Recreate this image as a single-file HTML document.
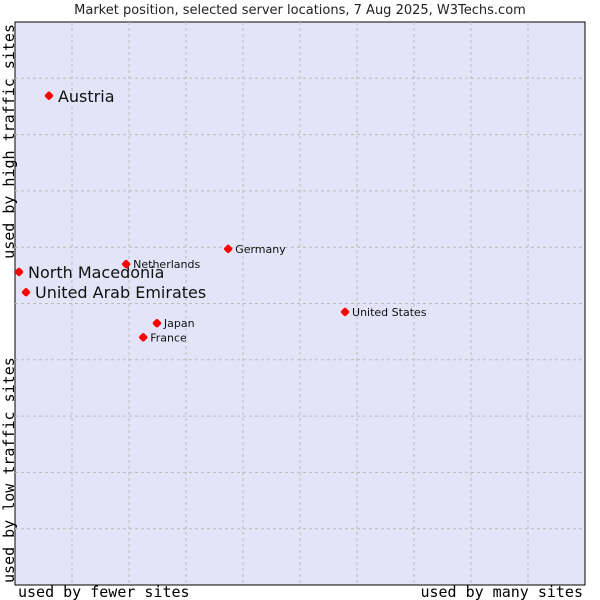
<!DOCTYPE html>
<html><head><meta charset="utf-8"><style>
body{margin:0;background:#fff;}
svg{display:block;font-family:"DejaVu Sans","Liberation Sans",sans-serif;}
</style></head><body>
<svg id="chart" width="600" height="600">
<text x="300" y="14" text-anchor="middle" font-size="13" fill="#222">Market position, selected server locations, 7 Aug 2025, W3Techs.com</text>
<rect x="15" y="22" width="570" height="563" fill="#e4e4f8" stroke="#000" stroke-width="1"/>
<g id="grid"></g>
<g id="points"></g>
<text x="18" y="597" font-family="DejaVu Sans Mono,Liberation Mono,monospace" font-size="15" fill="#000">used by fewer sites</text>
<text x="583" y="597" text-anchor="end" font-family="DejaVu Sans Mono,Liberation Mono,monospace" font-size="15" fill="#000">used by many sites</text>
<text transform="translate(14,583) rotate(-90)" font-family="DejaVu Sans Mono,Liberation Mono,monospace" font-size="15" fill="#000">used by low traffic sites</text>
<text transform="translate(14,24) rotate(-90)" text-anchor="end" font-family="DejaVu Sans Mono,Liberation Mono,monospace" font-size="15" fill="#000">used by high traffic sites</text>
</svg>
<script>
const names = ["Austria","North Macedonia","United Arab Emirates","Netherlands","Germany","United States","Japan","France"];
const xValues = [5.96,0.7,1.93,19.5,37.4,57.9,24.9,22.5];
const yValues = [86.9,55.6,52.0,57.0,59.7,48.5,46.5,44.0];
const big = [true,true,true,false,false,false,false,false];
const L=15,R=585,T=22,B=585;
function sx(v){return L+(R-L)*v/100;}
function sy(v){return B-(B-T)*v/100;}
const NS="http://www.w3.org/2000/svg";
const grid=document.getElementById('grid');
for(let i=1;i<10;i++){
  const vl=document.createElementNS(NS,'line');
  
  
  vl.setAttribute('x1',sx(i*10));vl.setAttribute('x2',sx(i*10));vl.setAttribute('y1',T);vl.setAttribute('y2',B);
  vl.setAttribute('stroke','#bbb');vl.setAttribute('stroke-dasharray','3,3');
  grid.appendChild(vl);
  const hl=document.createElementNS(NS,'line');
  
  
  hl.setAttribute('y1',sy(i*10));hl.setAttribute('y2',sy(i*10));hl.setAttribute('x1',L);hl.setAttribute('x2',R);
  hl.setAttribute('stroke','#bbb');hl.setAttribute('stroke-dasharray','3,3');
  grid.appendChild(hl);
}
const pts=document.getElementById('points');
names.forEach((n,i)=>{
  const x=sx(xValues[i]),y=sy(yValues[i]);
  const d=document.createElementNS(NS,'rect');
  
  
  d.setAttribute('x',x-3.5);d.setAttribute('y',y-3.5);d.setAttribute('width',7);d.setAttribute('height',7);
  d.setAttribute('rx',2);d.setAttribute('fill','#f00');
  d.setAttribute('transform','rotate(45 '+x+' '+y+')');
  pts.appendChild(d);
  const t=document.createElementNS(NS,'text');
  
  
  t.setAttribute('x',x+(big[i]?9:7));t.setAttribute('y',y+(big[i]?6:4));
  t.setAttribute('font-size',big[i]?16:11);t.setAttribute('fill','#111');
  t.textContent=n;
  pts.appendChild(t);
});
</script>
</body></html>
